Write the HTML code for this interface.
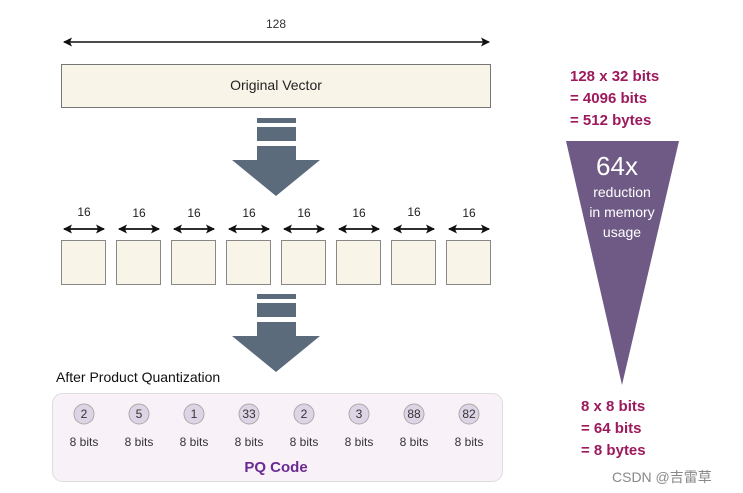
<!DOCTYPE html>
<html><head><meta charset="utf-8"><style>body{margin:0;background:#fff}svg{display:block}</style></head><body>
<svg width="743" height="493" viewBox="0 0 743 493" font-family="Liberation Sans, sans-serif">
<defs><marker id="a" markerWidth="9" markerHeight="9" refX="8" refY="4.5" orient="auto-start-reverse" markerUnits="userSpaceOnUse"><path d="M0,0 L9,4.5 L0,9 L2,4.5 Z" fill="#111"/></marker></defs>
<line x1="64" y1="42" x2="489" y2="42" stroke="#111" stroke-width="1.5" marker-start="url(#a)" marker-end="url(#a)"/>
<text x="276" y="28" font-size="12" text-anchor="middle" fill="#333">128</text>
<rect x="61.5" y="64.5" width="429" height="43" fill="#f8f5e8" stroke="#777"/>
<text x="276" y="90" font-size="14" text-anchor="middle" fill="#222">Original Vector</text>
<g fill="#5b6b7b">
<rect x="257" y="118" width="39" height="5"/><rect x="257" y="127" width="39" height="14"/><rect x="257" y="146" width="39" height="15"/><polygon points="232,160 320,160 276,196"/>
<rect x="257" y="294" width="39" height="5"/><rect x="257" y="303" width="39" height="14"/><rect x="257" y="322" width="39" height="15"/><polygon points="232,336 320,336 276,372"/>
</g>
<g font-size="12" fill="#222" text-anchor="middle">
<text x="84" y="216">16</text><text x="139" y="217">16</text><text x="194" y="217">16</text><text x="249" y="217">16</text><text x="304" y="217">16</text><text x="359" y="217">16</text><text x="414" y="216">16</text><text x="469" y="217">16</text>
</g>
<g stroke="#111" stroke-width="1.8">
<line x1="64" y1="229" x2="104" y2="229" marker-start="url(#a)" marker-end="url(#a)"/>
<line x1="119" y1="229" x2="159" y2="229" marker-start="url(#a)" marker-end="url(#a)"/>
<line x1="174" y1="229" x2="214" y2="229" marker-start="url(#a)" marker-end="url(#a)"/>
<line x1="229" y1="229" x2="269" y2="229" marker-start="url(#a)" marker-end="url(#a)"/>
<line x1="284" y1="229" x2="324" y2="229" marker-start="url(#a)" marker-end="url(#a)"/>
<line x1="339" y1="229" x2="379" y2="229" marker-start="url(#a)" marker-end="url(#a)"/>
<line x1="394" y1="229" x2="434" y2="229" marker-start="url(#a)" marker-end="url(#a)"/>
<line x1="449" y1="229" x2="489" y2="229" marker-start="url(#a)" marker-end="url(#a)"/>
</g>
<g fill="#f8f5e8" stroke="#888">
<rect x="61.5" y="240.5" width="44" height="44"/><rect x="116.5" y="240.5" width="44" height="44"/><rect x="171.5" y="240.5" width="44" height="44"/><rect x="226.5" y="240.5" width="44" height="44"/><rect x="281.5" y="240.5" width="44" height="44"/><rect x="336.5" y="240.5" width="44" height="44"/><rect x="391.5" y="240.5" width="44" height="44"/><rect x="446.5" y="240.5" width="44" height="44"/>
</g>
<text x="56" y="382" font-size="14" fill="#111">After Product Quantization</text>
<rect x="52.5" y="393.5" width="450" height="88" rx="10" fill="#f8f2f8" stroke="#ddd"/>
<g fill="#ddd5e6" stroke="#aaa">
<circle cx="84" cy="414" r="10"/><circle cx="139" cy="414" r="10"/><circle cx="194" cy="414" r="10"/><circle cx="249" cy="414" r="10"/><circle cx="304" cy="414" r="10"/><circle cx="359" cy="414" r="10"/><circle cx="414" cy="414" r="10"/><circle cx="469" cy="414" r="10"/>
</g>
<g font-size="12" fill="#333" text-anchor="middle">
<text x="84" y="418">2</text><text x="139" y="418">5</text><text x="194" y="418">1</text><text x="249" y="418">33</text><text x="304" y="418">2</text><text x="359" y="418">3</text><text x="414" y="418">88</text><text x="469" y="418">82</text>
<text x="84" y="446">8 bits</text><text x="139" y="446">8 bits</text><text x="194" y="446">8 bits</text><text x="249" y="446">8 bits</text><text x="304" y="446">8 bits</text><text x="359" y="446">8 bits</text><text x="414" y="446">8 bits</text><text x="469" y="446">8 bits</text>
</g>
<text x="276" y="472" font-size="15" font-weight="bold" fill="#6a2a90" text-anchor="middle">PQ Code</text>
<g font-size="15" font-weight="bold" fill="#9c1a5c">
<text x="570" y="81">128 x 32 bits</text><text x="570" y="103">= 4096 bits</text><text x="570" y="125">= 512 bytes</text>
<text x="581" y="411">8 x 8 bits</text><text x="581" y="433">= 64 bits</text><text x="581" y="455">= 8 bytes</text>
</g>
<polygon points="566,141 679,141 622,385" fill="#6f5a85"/>
<g fill="#fff" text-anchor="middle">
<text x="617" y="175" font-size="26">64x</text>
<text x="622" y="197" font-size="14">reduction</text>
<text x="622" y="217" font-size="14">in memory</text>
<text x="622" y="237" font-size="14">usage</text>
</g>
<text x="612" y="482" font-size="14" fill="#888" font-family="Liberation Sans, Noto Sans CJK SC, sans-serif">CSDN @吉雷草</text>
</svg>
</body></html>
